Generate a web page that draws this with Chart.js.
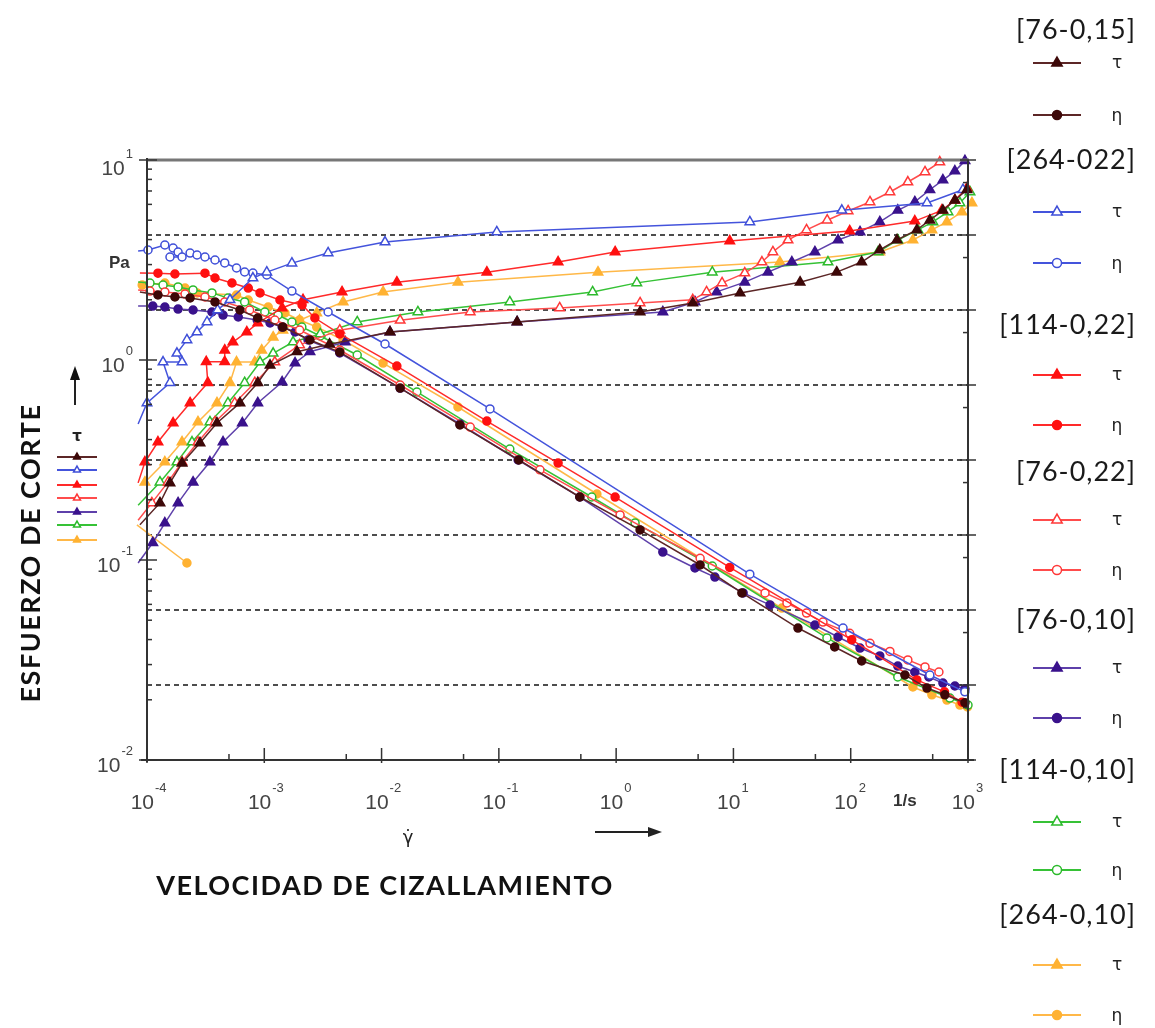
<!DOCTYPE html>
<html>
<head>
<meta charset="utf-8">
<title>Esfuerzo de corte</title>
<script src="https://cdn.jsdelivr.net/npm/chart.js@4"></script>
<style>
  html, body { margin: 0; padding: 0; background: #fff; }
  #wrap { width: 1155px; height: 1028px; }
</style>
</head>
<body>
<div id="wrap"><canvas id="chart" width="1155" height="1028"></canvas></div>
<script>
// shear rate (1/s) and shear stress tau (Pa) / viscosity eta (Pa·s) per sample

// [76-0,15]
const rate_76_015_tau = [8.7e-5, 1.29e-4, 1.57e-4, 1.99e-4, 2.83e-4, 3.95e-4, 6.2e-4, 8.8e-4, 1.12e-3, 1.9e-3, 3.6e-3, 0.0118, 0.143, 1.6, 4.5, 11.4, 37, 76, 124, 177, 248, 366, 473, 611, 773, 980];
const tau_76_015 = [0.150, 0.193, 0.243, 0.305, 0.385, 0.484, 0.61, 0.77, 0.94, 1.10, 1.20, 1.38, 1.55, 1.74, 1.93, 2.16, 2.45, 2.75, 3.09, 3.55, 3.98, 4.47, 5.0, 5.6, 6.3, 7.1];
const rate_76_015_eta = [8.7e-5, 1.24e-4, 1.73e-4, 2.33e-4, 3.8e-4, 6.2e-4, 8.8e-4, 1.44e-3, 2.45e-3, 4.4e-3, 0.0144, 0.0466, 0.148, 0.49, 1.6, 5.2, 11.8, 35.5, 73, 124, 290, 447, 635, 942];
const eta_76_015 = [1740, 1585, 1490, 1445, 1280, 1000, 782, 593, 398, 275, 91, 29.3, 10, 3.21, 1.17, 0.398, 0.169, 0.0575, 0.0321, 0.0209, 0.0136, 0.0091, 0.0074, 0.0058];

// [264-022]
const rate_264_022_tau = [8.4e-5, 1.0e-4, 1.57e-4, 1.37e-4, 1.99e-4, 1.80e-4, 2.19e-4, 2.67e-4, 3.25e-4, 4.0e-4, 5.1e-4, 8.0e-4, 1.05e-3, 1.72e-3, 3.5e-3, 0.0107, 0.096, 13.8, 84, 447, 905];
const tau_264_022 = [0.479, 0.61, 0.77, 0.977, 0.977, 1.08, 1.26, 1.38, 1.55, 1.78, 2.0, 2.57, 2.75, 3.05, 3.43, 3.89, 4.37, 4.9, 5.6, 6.1, 7.1];
const rate_264_022_eta = [8.4e-5, 1.02e-4, 1.42e-4, 1.67e-4, 1.84e-4, 1.57e-4, 1.99e-4, 2.33e-4, 2.67e-4, 3.12e-4, 3.8e-4, 4.6e-4, 5.8e-4, 6.8e-4, 8.0e-4, 1.05e-3, 1.72e-3, 3.5e-3, 0.0107, 0.084, 13.8, 86, 473, 940];
const eta_264_022 = [6120, 6310, 7360, 6710, 5930, 5090, 5090, 5750, 5410, 5090, 4640, 4240, 3630, 3210, 3110, 2930, 1790, 940, 352, 48, 0.30, 0.0575, 0.0136, 0.0081];

// [114-0,22]
const rate_114_022_tau = [8.4e-5, 9.6e-5, 1.24e-4, 1.67e-4, 2.33e-4, 3.3e-4, 3.2e-4, 4.6e-4, 4.6e-4, 5.4e-4, 7.1e-4, 8.8e-4, 1.42e-3, 2.14e-3, 4.6e-3, 0.0135, 0.079, 0.32, 0.98, 9.3, 98, 352, 598, 773, 980];
const tau_114_022 = [0.243, 0.309, 0.389, 0.484, 0.61, 0.77, 0.98, 0.98, 1.12, 1.23, 1.38, 1.53, 1.82, 2.0, 2.19, 2.45, 2.75, 3.09, 3.47, 3.94, 4.42, 4.95, 5.6, 6.3, 7.24];
const rate_114_022_eta = [8.7e-5, 1.24e-4, 1.73e-4, 3.12e-4, 3.8e-4, 5.3e-4, 7.3e-4, 9.2e-4, 1.36e-3, 2.1e-3, 2.7e-3, 4.4e-3, 0.0135, 0.079, 0.32, 0.98, 9.3, 102, 366, 630, 890];
const eta_114_022 = [3110, 3100, 3020, 3100, 2670, 2290, 1960, 1690, 1360, 1170, 782, 479, 179, 33, 9.1, 3.2, 0.37, 0.040, 0.0117, 0.0081, 0.0059];

// [76-0,22]
const rate_76_022_tau = [8.4e-5, 1.10e-4, 1.51e-4, 1.99e-4, 2.72e-4, 3.8e-4, 5.6e-4, 8.3e-4, 1.23e-3, 2.0e-3, 4.4e-3, 0.0144, 0.057, 0.33, 1.6, 4.5, 5.9, 8.0, 12.5, 17.5, 21.7, 29.2, 42, 63, 95, 146, 216, 307, 430, 575];
const tau_76_022 = [0.158, 0.193, 0.245, 0.309, 0.389, 0.49, 0.61, 0.77, 0.977, 1.19, 1.41, 1.58, 1.74, 1.82, 1.93, 2.0, 2.19, 2.43, 2.72, 3.09, 3.47, 3.98, 4.47, 5.0, 5.56, 6.17, 6.92, 7.76, 8.71, 9.77];
const rate_76_022_eta = [8.4e-5, 1.06e-4, 1.42e-4, 2.11e-4, 3.12e-4, 4.6e-4, 7.5e-4, 1.23e-3, 2.0e-3, 4.4e-3, 0.0144, 0.057, 0.224, 1.08, 5.2, 18.6, 28.6, 42, 58, 98, 146, 216, 307, 430, 565];
const eta_76_022 = [1850, 1790, 1740, 1630, 1490, 1280, 1000, 736, 541, 293, 100, 27.5, 7.4, 1.85, 0.49, 0.169, 0.124, 0.091, 0.069, 0.049, 0.036, 0.028, 0.0216, 0.0174, 0.0149];

// [76-0,10]
const rate_76_010_tau = [8.4e-5, 1.12e-4, 1.42e-4, 1.84e-4, 2.47e-4, 3.44e-4, 4.45e-4, 6.5e-4, 8.8e-4, 1.42e-3, 1.83e-3, 2.45e-3, 4.9e-3, 0.0118, 0.143, 2.5, 4.7, 7.2, 12.5, 19.7, 31.5, 49.5, 78, 120, 177, 252, 352, 473, 611, 773, 942];
const tau_76_010 = [0.0966, 0.122, 0.153, 0.193, 0.245, 0.309, 0.389, 0.484, 0.61, 0.776, 0.966, 1.10, 1.23, 1.38, 1.55, 1.74, 1.95, 2.19, 2.45, 2.75, 3.09, 3.47, 3.98, 4.37, 4.9, 5.6, 6.17, 7.1, 7.94, 8.8, 9.9];
const rate_76_010_eta = [8.4e-5, 1.12e-4, 1.42e-4, 1.84e-4, 2.47e-4, 3.58e-4, 4.45e-4, 6.0e-4, 8.7e-4, 1.12e-3, 1.42e-3, 1.83e-3, 2.36e-3, 4.4e-3, 0.0144, 0.0466, 0.146, 0.49, 2.5, 4.7, 6.95, 12.1, 20.5, 49.5, 78, 120, 177, 252, 352, 464, 611, 773, 942];
const eta_76_010 = [1130, 1130, 1096, 1030, 1000, 940, 857, 807, 736, 671, 593, 509, 398, 267, 91, 30.2, 10, 3.21, 0.593, 0.363, 0.275, 0.169, 0.117, 0.063, 0.0437, 0.0311, 0.0244, 0.0179, 0.0149, 0.0128, 0.0106, 0.0097, 0.0089];

// [114-0,10]
const rate_114_010_tau = [8.2e-5, 8.4e-5, 1.29e-4, 1.80e-4, 2.42e-4, 3.44e-4, 4.9e-4, 6.8e-4, 9.2e-4, 1.19e-3, 1.76e-3, 3.0e-3, 6.2e-3, 0.0204, 0.124, 0.63, 1.5, 6.6, 64, 171, 252, 374, 502, 675, 853, 1040];
const tau_114_010 = [0.150, 0.188, 0.245, 0.309, 0.389, 0.49, 0.61, 0.77, 0.977, 1.08, 1.23, 1.35, 1.55, 1.74, 1.95, 2.19, 2.43, 2.75, 3.09, 3.47, 3.98, 4.47, 4.9, 5.5, 6.1, 6.92];
const rate_114_010_eta = [8.4e-5, 1.06e-4, 1.37e-4, 1.84e-4, 2.47e-4, 3.58e-4, 4.9e-4, 6.8e-4, 1.01e-3, 1.31e-3, 1.72e-3, 2.09e-3, 3.0e-3, 6.2e-3, 0.020, 0.124, 0.62, 1.45, 6.6, 62.7, 252, 701, 1000];
const eta_114_010 = [2360, 2290, 2150, 2030, 1850, 1690, 1445, 1280, 940, 857, 692, 593, 450, 251, 80.7, 14.0, 3.21, 1.45, 0.386, 0.0424, 0.0128, 0.0067, 0.0054];

// [264-0,10]
const rate_264_010_tau = [7.9e-5, 9.6e-5, 1.42e-4, 1.99e-4, 2.72e-4, 3.95e-4, 5.1e-4, 5.8e-4, 8.3e-4, 9.5e-4, 1.19e-3, 1.44e-3, 2.0e-3, 2.8e-3, 4.7e-3, 0.0103, 0.0448, 0.70, 24.9, 177, 339, 492, 661, 887, 1080];
const tau_264_010 = [0.193, 0.245, 0.309, 0.389, 0.49, 0.61, 0.77, 0.977, 0.977, 1.12, 1.30, 1.41, 1.58, 1.72, 1.95, 2.19, 2.45, 2.75, 3.09, 3.47, 3.98, 4.47, 4.9, 5.5, 6.1];
const rate_264_010_eta = [9.1e-5, 1.42e-4, 2.11e-4, 2.67e-4, 5.8e-4, 7.3e-4, 1.08e-3, 1.5e-3, 2.0e-3, 2.8e-3, 4.7e-3, 0.0103, 0.0448, 0.685, 25.9, 339, 492, 661, 853, 990];
const eta_264_010 = [2150, 2290, 1960, 1690, 1585, 1360, 1096, 912, 736, 593, 398, 196, 50.9, 3.52, 0.106, 0.0094, 0.0074, 0.0063, 0.0054, 0.0051];
// stray segment near the left axis
const rate_264_010_extra = [8.2e-5, 2.19e-4];
const tau_264_010_extra = [0.150, 0.0966];

const xTickExp = [-4, -3, -2, -1, 0, 1, 2, 3];
const yTickExp = [1, 0, -1, -2];

const samples = [
  { name: '[76-0,15]',  line: '#5c2626', mark: '#3d0808', filled: true,  tx: rate_76_015_tau,  ty: tau_76_015,  ex: rate_76_015_eta,  ey: eta_76_015 },
  { name: '[264-022]',  line: '#4454dc', mark: '#3f4fd8', filled: false, tx: rate_264_022_tau, ty: tau_264_022, ex: rate_264_022_eta, ey: eta_264_022 },
  { name: '[114-0,22]', line: '#ff2a2a', mark: '#ff1010', filled: true,  tx: rate_114_022_tau, ty: tau_114_022, ex: rate_114_022_eta, ey: eta_114_022 },
  { name: '[76-0,22]',  line: '#ff4c4c', mark: '#ff3838', filled: false, tx: rate_76_022_tau,  ty: tau_76_022,  ex: rate_76_022_eta,  ey: eta_76_022 },
  { name: '[76-0,10]',  line: '#5e40aa', mark: '#3a128c', filled: true,  tx: rate_76_010_tau,  ty: tau_76_010,  ex: rate_76_010_eta,  ey: eta_76_010 },
  { name: '[114-0,10]', line: '#36c236', mark: '#2cba2c', filled: false, tx: rate_114_010_tau, ty: tau_114_010, ex: rate_114_010_eta, ey: eta_114_010 },
  { name: '[264-0,10]', line: '#ffb848', mark: '#ffb232', filled: true,  tx: rate_264_010_tau, ty: tau_264_010, ex: rate_264_010_eta, ey: eta_264_010 }
];

const AXIS_FONT = '"Liberation Sans", Arial, sans-serif';
const TEXT_FONT = 'Lato, "Liberation Sans", sans-serif';

function zip(xs, ys) {
  return xs.map((x, i) => ({ x: x, y: ys[i] }));
}

const datasets = [];
samples.forEach(s => {
  const common = {
    borderColor: s.line,
    borderWidth: 1.5,
    pointBorderColor: s.mark,
    pointBackgroundColor: s.filled ? s.mark : '#ffffff',
    pointBorderWidth: 1.5,
    tension: 0,
    clip: false
  };
  datasets.push(Object.assign({ label: s.name + ' τ', data: zip(s.tx, s.ty), yAxisID: 'y', pointStyle: 'triangle', pointRadius: 5.5 }, common));
  datasets.push(Object.assign({ label: s.name + ' η', data: zip(s.ex, s.ey), yAxisID: 'y1', pointStyle: 'circle', pointRadius: 4 }, common));
});
datasets.push({
  label: 'extra', data: zip(rate_264_010_extra, tau_264_010_extra), yAxisID: 'y',
  borderColor: '#ffb848', borderWidth: 1.5, pointStyle: 'circle', pointRadius: 4,
  pointBackgroundColor: '#ffb232', pointBorderColor: '#ffb232', clip: false
});

function seg(ctx, x1, y1, x2, y2) {
  ctx.beginPath();
  ctx.moveTo(x1, y1);
  ctx.lineTo(x2, y2);
  ctx.stroke();
}

function marker(ctx, style, x, y, r, color, filled) {
  ctx.beginPath();
  if (style === 'triangle') {
    ctx.moveTo(x, y - r);
    ctx.lineTo(x + r * 0.866, y + r * 0.5);
    ctx.lineTo(x - r * 0.866, y + r * 0.5);
    ctx.closePath();
  } else {
    ctx.arc(x, y, r, 0, Math.PI * 2);
  }
  ctx.fillStyle = filled ? color : '#fff';
  ctx.fill();
  ctx.lineWidth = 1.5;
  ctx.strokeStyle = color;
  ctx.stroke();
}

function legendRow(ctx, s, style, x1, x2, y, r) {
  ctx.strokeStyle = s.line;
  ctx.lineWidth = 2;
  seg(ctx, x1, y, x2, y);
  marker(ctx, style, (x1 + x2) / 2, y, r, s.mark, s.filled);
}

// power-of-ten label: "10" with a raised exponent
function powLabel(ctx, exp, x, y, align) {
  const e = String(exp);
  ctx.font = '21px ' + AXIS_FONT;
  const w10 = ctx.measureText('10').width;
  ctx.font = '13px ' + AXIS_FONT;
  const we = ctx.measureText(e).width;
  const left = align === 'right' ? x - w10 - we - 1 : x - w10;
  ctx.fillStyle = '#444';
  ctx.textAlign = 'left';
  ctx.textBaseline = 'middle';
  ctx.font = '21px ' + AXIS_FONT;
  ctx.fillText('10', left, y);
  ctx.font = '13px ' + AXIS_FONT;
  ctx.fillText(e, left + w10 + 1, y - 15);
}

const decorations = {
  id: 'decorations',
  beforeDatasetsDraw(chart) {
    const { ctx, chartArea: a, scales } = chart;
    ctx.save();
    // dashed grid from the right (viscosity) axis decades
    ctx.strokeStyle = '#4d4d4d';
    ctx.lineWidth = 2;
    ctx.setLineDash([5, 4]);
    for (let e = -2; e <= 4; e++) {
      const py = Math.round(scales.y1.getPixelForValue(Math.pow(10, e)));
      seg(ctx, a.left, py, a.right, py);
    }
    ctx.restore();
  },
  afterDatasetsDraw(chart) {
    const { ctx, chartArea: a, scales } = chart;
    const sx = scales.x, sy = scales.y, sy1 = scales.y1;
    ctx.save();

    // frame
    ctx.strokeStyle = '#777';
    ctx.lineWidth = 3;
    seg(ctx, a.left - 1, a.top, a.right + 1, a.top);
    ctx.strokeStyle = '#333';
    ctx.lineWidth = 2;
    seg(ctx, a.left, a.top - 2, a.left, a.bottom + 2);
    seg(ctx, a.left - 6, a.bottom, a.right + 6, a.bottom);
    seg(ctx, a.right, a.top, a.right, a.bottom);

    // left axis ticks
    ctx.lineWidth = 1.5;
    yTickExp.forEach(e => {
      const py = sy.getPixelForValue(Math.pow(10, e));
      seg(ctx, a.left - 8, py, a.left + 10, py);
      if (e < 1) {
        for (let m = 2; m <= 9; m++) {
          const pm = sy.getPixelForValue(m * Math.pow(10, e));
          seg(ctx, a.left, pm, a.left + 5, pm);
        }
      }
    });
    // bottom axis ticks
    xTickExp.forEach(e => {
      const px = sx.getPixelForValue(Math.pow(10, e));
      seg(ctx, px, a.bottom - 12, px, a.bottom + 3);
      if (e < 3) {
        const pm = sx.getPixelForValue(5 * Math.pow(10, e));
        seg(ctx, pm, a.bottom - 6, pm, a.bottom);
      }
    });
    // right axis ticks
    for (let e = -3; e <= 5; e++) {
      const py = sy1.getPixelForValue(Math.pow(10, e));
      seg(ctx, a.right - 8, py, a.right + 8, py);
      if (e < 5) {
        const pm = sy1.getPixelForValue(5 * Math.pow(10, e));
        seg(ctx, a.right - 5, pm, a.right, pm);
      }
    }

    // tick labels
    yTickExp.forEach(e => {
      const py = sy.getPixelForValue(Math.pow(10, e));
      powLabel(ctx, e, a.left - 14, py + (e === 1 ? 9 : 6), 'right');
    });
    xTickExp.forEach(e => {
      const px = sx.getPixelForValue(Math.pow(10, e));
      powLabel(ctx, e, px + 7, a.bottom + 43, 'left');
    });

    ctx.fillStyle = '#333';
    ctx.textBaseline = 'middle';
    ctx.textAlign = 'left';
    ctx.font = 'bold 17px ' + AXIS_FONT;
    ctx.fillText('1/s', 893, a.bottom + 41);
    ctx.fillText('Pa', 109, 263);

    // x title
    ctx.fillStyle = '#222';
    ctx.font = '18px "DejaVu Sans", sans-serif';
    ctx.textAlign = 'center';
    ctx.fillText('γ̇', 408, 838);
    ctx.strokeStyle = '#222';
    ctx.lineWidth = 2;
    seg(ctx, 595, 832, 650, 832);
    ctx.beginPath();
    ctx.moveTo(662, 832);
    ctx.lineTo(648, 827);
    ctx.lineTo(648, 837);
    ctx.closePath();
    ctx.fill();

    ctx.fillStyle = '#111';
    ctx.font = 'bold 27px ' + TEXT_FONT;
    ctx.letterSpacing = '1.5px';
    ctx.fillText('VELOCIDAD DE CIZALLAMIENTO', 385, 886);

    // y title
    ctx.save();
    ctx.translate(31, 553);
    ctx.rotate(-Math.PI / 2);
    ctx.font = 'bold 27px ' + TEXT_FONT;
    ctx.fillText('ESFUERZO DE CORTE', 0, 0);
    ctx.restore();
    ctx.letterSpacing = '0px';
    // up arrow
    seg(ctx, 75, 405, 75, 378);
    ctx.beginPath();
    ctx.moveTo(75, 366);
    ctx.lineTo(70, 380);
    ctx.lineTo(80, 380);
    ctx.closePath();
    ctx.fill();

    // small tau key on the left
    ctx.font = 'bold 15px "DejaVu Sans", sans-serif';
    ctx.fillStyle = '#222';
    ctx.fillText('τ', 77, 437);
    const keyY = [457, 470, 485, 498, 512, 525, 540];
    samples.forEach((s, i) => legendRow(ctx, s, 'triangle', 57, 97, keyY[i], 4));

    // right legend
    const titleY = [30, 160, 325, 472, 620, 770, 915];
    const tauY = [63, 212, 375, 520, 668, 822, 965];
    const etaY = [115, 263, 425, 570, 718, 870, 1015];
    samples.forEach((s, i) => {
      ctx.fillStyle = '#1a1a1a';
      ctx.textAlign = 'right';
      ctx.font = '27px ' + TEXT_FONT;
      ctx.letterSpacing = '1px';
      ctx.fillText(s.name, 1136, titleY[i]);
      ctx.letterSpacing = '0px';
      legendRow(ctx, s, 'triangle', 1033, 1081, tauY[i], 6);
      legendRow(ctx, s, 'circle', 1033, 1081, etaY[i], 4.5);
      ctx.fillStyle = '#222';
      ctx.textAlign = 'center';
      ctx.font = '17px "DejaVu Sans", sans-serif';
      ctx.fillText('τ', 1117, tauY[i] + 1);
      ctx.fillText('η', 1117, etaY[i] + 2);
    });

    ctx.restore();
  }
};

const chart = new Chart(document.getElementById('chart').getContext('2d'), {
  type: 'line',
  data: { datasets: datasets },
  options: {
    responsive: false,
    animation: false,
    layout: { padding: { top: 160, left: 0, right: 0, bottom: 0 } },
    plugins: { legend: { display: false }, tooltip: { enabled: false }, title: { display: false } },
    scales: {
      x: {
        type: 'logarithmic', position: 'bottom', min: 1e-4, max: 1e3,
        grid: { display: false }, border: { display: false }, ticks: { display: false },
        afterFit: s => { s.height = 268; }
      },
      y: {
        type: 'logarithmic', position: 'left', min: 0.01, max: 10,
        grid: { display: false }, border: { display: false }, ticks: { display: false },
        afterFit: s => { s.width = 147; }
      },
      y1: {
        type: 'logarithmic', position: 'right', min: 1e-3, max: 1e5,
        grid: { display: false }, border: { display: false }, ticks: { display: false },
        afterFit: s => { s.width = 187; }
      }
    }
  },
  plugins: [decorations]
});
</script>
</body>
</html>
